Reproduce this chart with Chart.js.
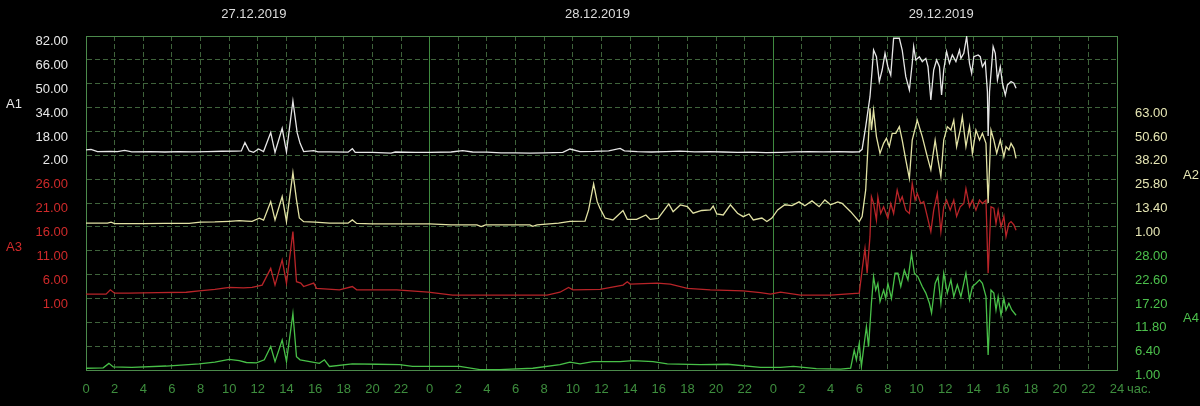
<!DOCTYPE html>
<html><head><meta charset="utf-8">
<script src="https://cdn.jsdelivr.net/npm/chart.js"></script>
<style>html,body{margin:0;padding:0;background:#000;overflow:hidden}#wrap{width:1200px;height:406px;position:relative;background:#000}</style>
</head><body><div id="wrap"><canvas id="c"></canvas></div>
<script>
// ---- data ----
const dateLabels = ['27.12.2019','28.12.2019','29.12.2019'];
const dateHours = [12, 36, 60];
const xTickHours = [0,2,4,6,8,10,12,14,16,18,20,22,24,26,28,30,32,34,36,38,40,42,44,46,48,50,52,54,56,58,60,62,64,66,68,70,72];
const xTickLabels = ['0','2','4','6','8','10','12','14','16','18','20','22','0','2','4','6','8','10','12','14','16','18','20','22','0','2','4','6','8','10','12','14','16','18','20','22','24'];
const xUnit = 'час.';
const seriesNames = ['A1','A2','A3','A4'];
const a1Ticks = [2,18,34,50,66,82];
const a2Ticks = [1,13.4,25.8,38.2,50.6,63];
const a3Ticks = [1,6,11,16,21,26];
const a4Ticks = [1,6.4,11.8,17.2,22.6,28];

// [hour, value]
const a1Series = [[0,5.6],[0.35,6.0],[0.8,4.4],[1.7,4.6],[2.2,4.4],[2.7,5.3],[3.2,4.3],[4.5,4.4],[5.5,4.2],[6.5,4.4],[7.5,4.3],[8.5,4.5],[9.5,4.7],[10.5,4.8],[10.85,4.9],[11.1,10.5],[11.4,4.9],[11.7,4.0],[12.05,6.2],[12.4,4.5],[12.9,17.2],[13.2,4.0],[13.7,20.1],[14.0,4.2],[14.45,38.4],[14.75,17.0],[14.95,10.0],[15.2,4.5],[15.9,5.1],[16.2,4.3],[17.0,4.3],[18.3,4.1],[18.6,6.4],[18.8,3.9],[20,3.9],[21.3,3.5],[21.6,4.2],[23,4.0],[24,3.9],[25.5,4.2],[26.3,5.1],[27,4.2],[28,4.1],[29,3.6],[30,3.6],[31,3.5],[32,3.6],[33.3,3.9],[33.8,6.2],[34.5,4.5],[35.5,4.6],[36.5,5.0],[37.3,6.6],[37.6,5.0],[38.5,4.5],[39.5,4.2],[40.5,4.5],[41.5,4.8],[42.5,4.3],[43.5,4.5],[44.5,4.2],[45.5,4.0],[46.5,4.1],[47.5,3.8],[48.5,4.0],[49.5,4.3],[50.5,4.5],[51.5,4.3],[52.5,4.4],[53.5,4.2],[54.0,4.3],[54.2,6.0],[54.45,21.2],[54.75,41.3],[54.9,59.2],[55.0,72.6],[55.2,68.1],[55.4,51.4],[55.6,59.2],[55.8,70.4],[56.0,61.4],[56.2,55.8],[56.4,80.5],[56.8,80.5],[57.0,72.6],[57.25,54.7],[57.5,45.8],[57.7,63.7],[57.8,74.9],[57.95,65.9],[58.2,68.1],[58.4,64.8],[58.65,67.0],[58.8,61.4],[59.0,39.1],[59.2,59.2],[59.4,65.9],[59.6,61.4],[59.75,42.4],[59.9,59.2],[60.1,71.5],[60.3,63.7],[60.5,69.3],[60.75,64.8],[61.0,72.6],[61.1,67.0],[61.3,70.4],[61.5,81.6],[61.7,63.7],[61.85,57.0],[62.0,68.1],[62.3,69.3],[62.45,68.1],[62.6,61.4],[62.8,64.8],[62.95,44.7],[63.0,15.0],[63.1,45.0],[63.35,74.9],[63.5,70.4],[63.65,52.5],[63.85,61.4],[64.0,50.3],[64.2,42.4],[64.35,49.2],[64.6,51.4],[64.8,50.3],[64.95,46.9]];

const a2Series = [[0,2.9],[1.5,2.9],[1.75,3.4],[2.0,2.7],[4,2.7],[5.5,2.8],[7.2,2.8],[8,3.5],[9,3.6],[10,3.9],[10.7,4.2],[11.2,4.0],[11.6,3.9],[12.1,5.5],[12.4,4.5],[12.9,14.1],[13.2,4.6],[13.7,16.7],[14.0,3.7],[14.45,29.2],[14.7,15.0],[14.9,5.6],[15.2,3.7],[16,3.5],[17,2.9],[18.3,2.9],[18.6,4.6],[18.9,2.8],[20,2.6],[22,2.6],[24,2.5],[25.5,2.0],[27.3,2.0],[27.6,1.1],[27.9,2.0],[29,2.0],[31,2.0],[31.2,1.3],[31.5,2.0],[33,2.9],[33.8,3.8],[34.85,4.0],[35.1,9.8],[35.45,23.3],[35.7,14.1],[35.9,10.6],[36.25,5.6],[36.8,4.6],[37.5,9.5],[37.8,4.9],[38.45,4.9],[39.1,7.2],[39.4,4.9],[39.95,5.4],[40.7,12.9],[41.0,8.9],[41.5,12.4],[42.0,11.5],[42.4,8.1],[43.0,9.5],[43.6,9.8],[43.8,11.8],[44.05,7.7],[44.5,7.2],[45.0,12.4],[45.5,8.1],[45.9,6.3],[46.3,7.7],[46.6,4.6],[47.2,5.6],[47.55,3.8],[47.9,5.6],[48.3,9.8],[48.8,12.5],[49.3,12.0],[49.8,14.0],[50.2,12.0],[50.7,14.5],[51.2,11.5],[51.6,15.0],[52.0,12.5],[52.5,14.0],[52.8,13.2],[53.4,8.9],[54.0,3.7],[54.2,6.3],[54.45,20.2],[54.75,62.6],[54.85,51.3],[55.0,61.7],[55.2,47.9],[55.45,39.2],[55.7,44.4],[55.9,47.0],[56.1,42.7],[56.3,49.6],[56.55,49.6],[56.8,53.1],[57.0,46.1],[57.25,35.8],[57.5,26.2],[57.7,46.1],[58.05,56.5],[58.4,47.9],[58.75,37.5],[59.0,30.6],[59.3,46.1],[59.5,35.8],[59.7,27.1],[59.9,46.1],[60.15,53.1],[60.4,51.3],[60.6,56.5],[60.8,42.7],[61.05,51.3],[61.2,58.3],[61.45,42.7],[61.7,53.1],[61.9,39.2],[62.15,51.3],[62.4,46.1],[62.6,49.6],[62.85,44.4],[63.0,13.4],[63.2,51.3],[63.4,46.1],[63.6,39.2],[63.85,46.1],[64.1,37.5],[64.25,42.7],[64.45,41.0],[64.6,44.4],[64.8,41.8],[64.95,36.6]];

const a3Series = [[0,1.9],[1.4,1.9],[1.7,2.8],[2.0,2.1],[3,2.1],[5,2.2],[7,2.3],[7.9,2.6],[9,2.9],[10,3.3],[11,3.2],[11.6,3.3],[12.3,3.8],[12.9,7.3],[13.2,3.8],[13.7,9.1],[14.0,4.2],[14.45,15.0],[14.7,4.5],[15.0,4.2],[15.2,3.5],[15.9,4.2],[16.1,3.1],[17.7,2.8],[18.6,3.5],[18.9,2.8],[21.7,2.8],[23.9,2.3],[25.6,1.7],[32.2,1.7],[33.1,2.3],[33.7,3.3],[34.0,2.8],[35.9,2.9],[37.5,3.8],[37.8,4.5],[38.0,4.0],[39.9,4.2],[40.8,4.0],[42.0,3.1],[43.6,2.8],[45.9,2.6],[47.1,2.2],[47.8,1.9],[48.5,2.3],[49.9,1.7],[52,1.7],[54.0,2.1],[54.2,7.0],[54.4,11.5],[54.55,6.3],[54.75,14.0],[54.85,22.3],[55.0,20.9],[55.2,17.4],[55.3,22.3],[55.5,18.8],[55.7,20.2],[56.0,17.8],[56.2,20.9],[56.4,18.8],[56.65,23.7],[56.85,21.3],[57.0,22.3],[57.25,19.5],[57.5,18.8],[57.7,25.1],[57.9,21.6],[58.05,23.0],[58.3,20.9],[58.5,21.3],[58.75,18.2],[59.0,15.0],[59.2,19.5],[59.45,23.0],[59.7,15.0],[59.9,20.2],[60.1,21.6],[60.35,19.5],[60.6,21.6],[60.8,18.2],[61.05,20.2],[61.3,20.9],[61.45,24.0],[61.7,20.2],[61.9,21.6],[62.15,19.5],[62.4,21.6],[62.6,20.9],[62.85,21.6],[63.0,6.3],[63.2,20.2],[63.4,19.9],[63.55,16.7],[63.7,19.5],[63.9,16.0],[64.1,18.2],[64.25,14.0],[64.45,16.7],[64.6,17.1],[64.8,16.4],[64.95,15.3]];

const a4Series = [[0,1.4],[1.2,1.5],[1.6,2.5],[1.9,1.7],[3.2,1.6],[5.6,1.9],[7.9,2.4],[9,2.8],[10,3.4],[10.7,3.1],[11.2,2.7],[11.9,2.6],[12.45,3.3],[12.9,6.3],[13.2,2.9],[13.7,7.8],[14.0,2.9],[14.45,13.8],[14.7,4.0],[14.95,3.3],[16.3,2.5],[16.65,3.3],[17.0,1.8],[18.6,2.4],[20.3,2.3],[21.9,2.2],[22.8,1.8],[26.1,1.8],[27.5,1.1],[28.9,1.1],[31.2,1.4],[33.1,2.2],[33.8,2.8],[34.5,2.4],[35.4,2.9],[37.3,2.9],[38.2,3.1],[39.6,2.9],[40.6,2.4],[42.9,2.2],[44.8,2.3],[47.1,1.6],[48.5,1.6],[49.4,1.8],[51,1.3],[52.7,1.2],[53.4,1.4],[53.65,5.5],[53.8,3.3],[54.0,7.0],[54.15,1.8],[54.35,7.0],[54.5,10.8],[54.65,6.3],[54.85,16.1],[55.0,22.1],[55.15,19.1],[55.3,20.6],[55.45,16.5],[55.7,19.1],[55.85,17.2],[56.0,20.6],[56.25,17.2],[56.5,22.9],[56.7,22.9],[56.9,19.9],[57.15,23.6],[57.4,21.4],[57.65,27.4],[57.85,22.9],[58.1,22.1],[58.4,19.9],[58.65,18.4],[58.9,16.1],[59.05,13.9],[59.3,20.6],[59.5,22.1],[59.7,16.1],[59.9,22.9],[60.15,18.4],[60.4,21.4],[60.6,17.6],[60.85,20.3],[61.1,17.6],[61.45,22.9],[61.7,16.9],[61.9,19.9],[62.15,20.6],[62.4,21.4],[62.6,20.6],[62.85,17.6],[63.0,4.4],[63.2,19.1],[63.4,18.4],[63.55,14.6],[63.7,17.6],[63.9,13.4],[64.1,17.2],[64.25,14.6],[64.45,16.1],[64.65,14.6],[64.95,13.4]];

// ---- styling / layout ----
const ROWS = 14;            // horizontal grid bands
const topRow = {A1:0, A2:3, A3:6, A4:9};  // grid row of the highest labelled tick
const col = {
  A1:'#e6e6e6', A2:'#e2e2a4', A3:'#b82428', A4:'#48c048',
  A1t:'#e8e8e8', A2t:'#e6e6b4', A3t:'#d02a2a', A4t:'#4cc04c',
  grid:'rgba(66,104,62,0.95)', frame:'#4b8a4b', day:'#3f8a3f', xt:'#3e8e3e', date:'#dcdcdc'
};
const FONT = '"Liberation Sans", Arial, sans-serif';

function range(ticks, row){
  const step = ticks[1]-ticks[0];
  const max = ticks[ticks.length-1] + row*step;
  return {min: max - ROWS*step, max};
}
const r1 = range(a1Ticks, topRow.A1), r2 = range(a2Ticks, topRow.A2), r3 = range(a3Ticks, topRow.A3), r4 = range(a4Ticks, topRow.A4);
const toXY = s => s.map(p => ({x:p[0], y:p[1]}));

// label of grid row k, taken from whichever series' scale has a labelled tick there
function rowLabel(k, groups){
  for (const g of groups){
    const step = g.ticks[1]-g.ticks[0];
    const v = g.r.max - k*step;
    if (g.ticks.some(t => Math.abs(t - v) < 1e-6)) return {text:v.toFixed(2), color:g.color};
  }
  return null;
}
const leftGroups  = [{ticks:a1Ticks, r:r1, color:col.A1t}, {ticks:a3Ticks, r:r3, color:col.A3t}];
const rightGroups = [{ticks:a2Ticks, r:r2, color:col.A2t}, {ticks:a4Ticks, r:r4, color:col.A4t}];

function labelAxis(pos, r, groups, width, showGrid){
  return {
    type:'linear', position:pos, min:r.min, max:r.max,
    afterBuildTicks: sc => {
      const step = (r.max - r.min)/ROWS;
      const arr = [];
      for (let k=0;k<=ROWS;k++) arr.push({value: r.max - k*step});
      sc.ticks = arr;
    },
    afterFit: sc => { sc.width = width; },
    ticks:{
      autoSkip:false, font:{family:FONT, size:13}, padding:18, labelOffset:5.5,
      color: c => { const l = rowLabel(c.index, groups); return l ? l.color : '#000'; },
      callback: (v, i) => { const l = rowLabel(i, groups); return l ? l.text : ''; }
    },
    grid:{ display: showGrid, drawTicks:false, color: col.grid, lineWidth:1 },
    border:{ display:true, color: col.frame, width:1, dash:[5,3] }
  };
}
function hiddenAxis(pos, r){
  return {type:'linear', position:pos, min:r.min, max:r.max, display:false};
}

const titlePlugin = {
  id:'titles',
  afterDraw(chart){
    const {ctx, scales} = chart;
    ctx.save();
    ctx.font = '13px ' + FONT;
    ctx.textBaseline = 'middle';
    ctx.textAlign = 'left';
    const items = [
      [seriesNames[0], col.A1t, 6, scales.y1, a1Ticks],
      [seriesNames[2], col.A3t, 6, scales.y3, a3Ticks],
      [seriesNames[1], col.A2t, 1183, scales.y2, a2Ticks],
      [seriesNames[3], col.A4t, 1183, scales.y4, a4Ticks]
    ];
    items.forEach(([t,c,x,sc,tk]) => {
      ctx.fillStyle = c;
      ctx.fillText(t, x, sc.getPixelForValue((tk[0]+tk[tk.length-1])/2) + 8.5);
    });
    ctx.fillStyle = col.xt;
    ctx.fillText(xUnit, scales.x.getPixelForValue(72) + 10, scales.x.top + 19);
    ctx.restore();
  }
};

new Chart(document.getElementById('c'), {
  type:'line',
  data:{
    datasets:[
      {label:'A1', data:toXY(a1Series), yAxisID:'y1', borderColor:col.A1, borderWidth:1.3, pointRadius:0, tension:0},
      {label:'A2', data:toXY(a2Series), yAxisID:'y2', borderColor:col.A2, borderWidth:1.3, pointRadius:0, tension:0},
      {label:'A3', data:toXY(a3Series), yAxisID:'y3', borderColor:col.A3, borderWidth:1.3, pointRadius:0, tension:0},
      {label:'A4', data:toXY(a4Series), yAxisID:'y4', borderColor:col.A4, borderWidth:1.3, pointRadius:0, tension:0}
    ]
  },
  options:{
    responsive:true, maintainAspectRatio:false, animation:false,
    layout:{padding:0},
    plugins:{legend:{display:false}, tooltip:{enabled:false}},
    scales:{
      x:{
        type:'linear', position:'bottom', min:0, max:72,
        afterBuildTicks: sc => { sc.ticks = xTickHours.map(v => ({value:v})); },
        afterFit: sc => { sc.height = 36; },
        ticks:{ color:col.xt, font:{family:FONT, size:13}, padding:12, maxRotation:0, autoSkip:false,
          callback:(v,i) => xTickLabels[i] },
        grid:{ drawTicks:false, lineWidth:1,
          color: c => (c.tick && c.tick.value % 24 === 0) ? col.day : col.grid },
        border:{ display:true, color:col.frame, width:1,
          dash: c => (c.tick && c.tick.value % 24 === 0) ? [] : [5,3] }
      },
      xd:{
        type:'linear', position:'top', min:0, max:72,
        afterBuildTicks: sc => { sc.ticks = dateHours.map(v => ({value:v})); },
        afterFit: sc => { sc.height = 36; },
        ticks:{ color:col.date, font:{family:FONT, size:13}, padding:14, maxRotation:0, autoSkip:false, labelOffset:-4,
          callback:(v,i) => dateLabels[i] },
        grid:{ display:false, drawTicks:false },
        border:{ display:true, color:col.frame, width:1 }
      },
      y1: labelAxis('left', r1, leftGroups, 86, true),
      y2: labelAxis('right', r2, rightGroups, 83, false),
      y3: hiddenAxis('left', r3),
      y4: hiddenAxis('right', r4)
    }
  },
  plugins:[titlePlugin]
});
</script></body></html>
